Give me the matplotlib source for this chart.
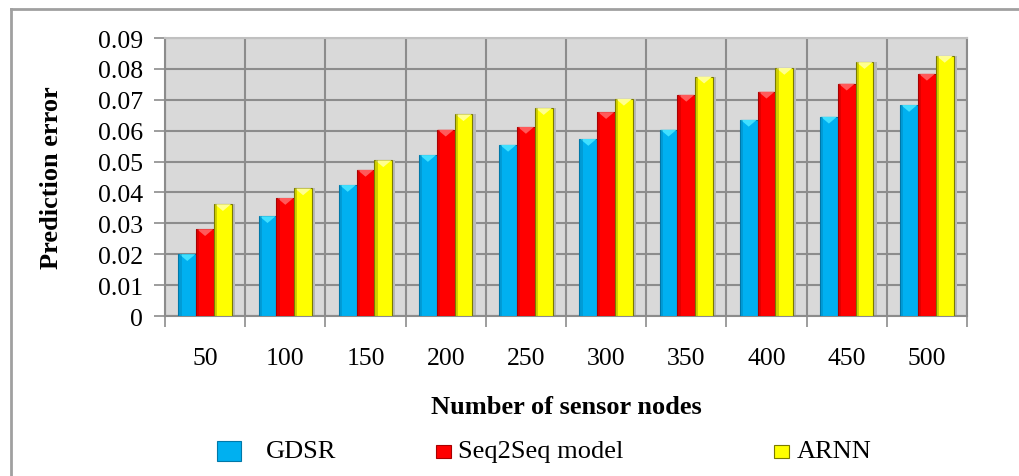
import matplotlib
matplotlib.use("Agg")
import matplotlib.pyplot as plt
from matplotlib.patches import Polygon, Rectangle
from matplotlib.lines import Line2D
import numpy as np

# ---------- DATA ----------
nodes = ["50", "100", "150", "200", "250", "300", "350", "400", "450", "500"]
series_names = ["GDSR", "Seq2Seq model", "ARNN"]
gdsr = [0.0200, 0.0323, 0.0424, 0.0521, 0.0554, 0.0573, 0.0603, 0.0635, 0.0645, 0.0683]
seq2seq = [0.0281, 0.0382, 0.0473, 0.0603, 0.0612, 0.0660, 0.0716, 0.0726, 0.0752, 0.0784]
arnn = [0.0362, 0.0413, 0.0504, 0.0653, 0.0673, 0.0703, 0.0775, 0.0803, 0.0822, 0.0842]
y_ticks = [0, 0.01, 0.02, 0.03, 0.04, 0.05, 0.06, 0.07, 0.08, 0.09]
y_tick_labels = ["0", "0.01", "0.02", "0.03", "0.04", "0.05", "0.06", "0.07", "0.08", "0.09"]

# ---------- STYLE ----------
plt.rcParams["font.family"] = ["Liberation Serif", "DejaVu Serif"]
face = ["#00B0F0", "#FF0000", "#FFFF00"]
edge = ["#0078a8", "#a80000", "#7a7a00"]
light = ["#40e0ff", "#ff5a5a", "#ffff90"]
grid_col = "#8c8c8c"

W, H = 1019, 477
fig = plt.figure(figsize=(W / 100, H / 100), dpi=100)

# outer frame (left and top edge visible)
fig.add_artist(Line2D([11 / W, 11 / W], [0, 1 - 10 / H], color="#a0a0a0", lw=2))
fig.add_artist(Line2D([11 / W, 1], [1 - 10 / H, 1 - 10 / H], color="#a0a0a0", lw=2))

ax = fig.add_axes([165 / W, 1 - 317 / H, 802 / W, 278 / H])
ax.set_facecolor("#D9D9D9")

x = np.arange(len(nodes))
bw = 0.222
offsets = [-bw, 0, bw]
all_series = [gdsr, seq2seq, arnn]

for i, vals in enumerate(all_series):
    # soft shadow on the right
    ax.bar(x + offsets[i] + 0.04, vals, bw, color="#b8b8b8", zorder=2, linewidth=0)
for i, vals in enumerate(all_series):
    bars = ax.bar(x + offsets[i], vals, bw, color=face[i], edgecolor=edge[i],
                  linewidth=0.8, zorder=3)
    # bevel highlight at the top of each bar
    for b in bars:
        bx, bwid, bh = b.get_x(), b.get_width(), b.get_height()
        ax.add_patch(Polygon([(bx + 0.01, bh), (bx + bwid - 0.01, bh),
                              (bx + bwid / 2, bh - 0.0022)],
                             closed=True, color=light[i], zorder=4, lw=0))
        ax.add_patch(Rectangle((bx, 0), bwid * 0.18, bh, color=edge[i],
                               alpha=0.35, zorder=4, lw=0))

ax.set_xlim(-0.5, len(nodes) - 0.5)
ax.set_ylim(0, 0.09)
ax.set_yticks(y_ticks)
ax.set_yticklabels(y_tick_labels)
ax.set_xticks(x)
ax.set_xticklabels(nodes)
ax.set_xticks(np.arange(-0.5, len(nodes)), minor=True)

ax.tick_params(axis="y", direction="out", length=8, width=1.2, color=grid_col,
               labelsize=18.5, pad=8)
ax.tick_params(axis="x", which="major", length=0, labelsize=18.5, pad=22)
ax.tick_params(axis="x", which="minor", direction="out", length=8, width=1.2,
               color=grid_col)

ax.grid(True, axis="y", which="major", color=grid_col, lw=1.5, zorder=1)
ax.grid(True, axis="x", which="minor", color=grid_col, lw=1.5, zorder=1)
ax.grid(False, axis="x", which="major")
ax.set_axisbelow(True)
for s in ax.spines.values():
    s.set_color(grid_col)
    s.set_linewidth(1.5)
ax.spines["top"].set_color("#c0c0c0")

fig.text(52 / W, 1 - 178 / H, "Prediction error", rotation=90, ha="center",
         va="center", fontsize=19, fontweight="bold")
fig.text(566 / W, 1 - 408 / H, "Number of sensor nodes", ha="center",
         va="center", fontsize=19, fontweight="bold")

# ---------- LEGEND ----------
leg_y = 1 - 452 / H
markers = [(217, 24, 20), (436, 15, 13), (774, 15, 13)]
text_x = [266, 458, 797]
for i, name in enumerate(series_names):
    mx, mw, mh = markers[i]
    fig.add_artist(Rectangle((mx / W, leg_y - mh / 2 / H), mw / W, mh / H,
                             facecolor=face[i], edgecolor=edge[i], lw=0.8,
                             transform=fig.transFigure))
    fig.text(text_x[i] / W, leg_y, name, ha="left", va="center", fontsize=19)

fig.savefig("out.png", dpi=100)
